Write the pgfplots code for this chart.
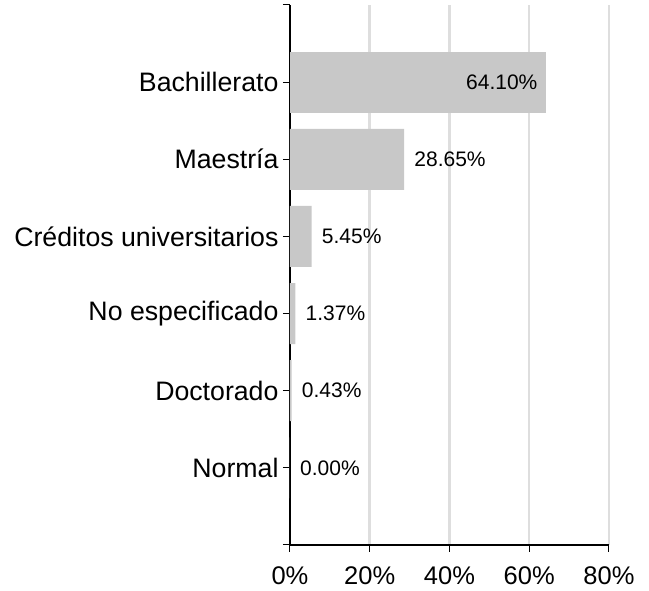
\documentclass[border=0pt]{standalone}
\usepackage{pgfplots}
\pgfplotsset{compat=1.18}
\usepackage{fontspec}
\setmainfont{Liberation Sans}
\definecolor{barcol}{RGB}{200,200,200}
\definecolor{gridcol}{RGB}{222,222,222}
\begin{document}
\begin{tikzpicture}[x=1pt,y=1pt]
\useasboundingbox (-290,-46) rectangle (359,545);
\begin{axis}[
  at={(0,0)}, anchor=south west,
  xbar, bar width=0.79, bar shift=0pt,
  width=319pt, height=540pt, scale only axis,
  xmin=0, xmax=80, ymin=-1, ymax=6,
  axis x line*=bottom, axis y line*=left,
  axis line style={line width=2.5pt, black},
  xtick={0,20,40,60,80},
  xticklabels={0\%,20\%,40\%,60\%,80\%},
  ytick={-1,0,1,2,3,4,5,6},
  yticklabels={,Normal,Doctorado,No especificado,Créditos universitarios,Maestría,Bachillerato,},
  xticklabel style={font=\fontsize{25.5}{28}\selectfont, yshift=-11pt},
  yticklabel style={font=\fontsize{26.7}{30}\selectfont, xshift=-1pt},
  tick align=outside, major tick length=7pt,
  tick style={black, line width=1pt},
  xmajorgrids, grid style={gridcol, line width=2.5pt},
  point meta=explicit symbolic,
  nodes near coords={\pgfplotspointmeta\%},
  every node near coord/.append style={font=\fontsize{21}{24}\selectfont, inner sep=0pt},
]
\addplot[fill=barcol, draw=none, every node near coord/.append style={anchor=west, xshift=10pt}]
  coordinates {
    (0.00,0) [0.00]
    (0.43,1) [0.43]
    (1.37,2) [1.37]
    (5.45,3) [5.45]
    (28.65,4) [28.65]
  };
\addplot[fill=barcol, draw=none, every node near coord/.append style={anchor=east, xshift=-8pt}]
  coordinates {
    (64.10,5) [64.10]
  };
\end{axis}
\end{tikzpicture}
\end{document}
